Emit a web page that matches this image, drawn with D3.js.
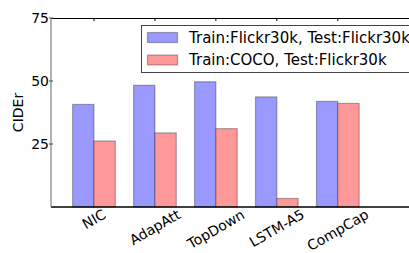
<!DOCTYPE html>
<html>
<head>
<meta charset="utf-8">
<script src="https://cdn.jsdelivr.net/npm/d3@7"></script>
<style>
  body { margin: 0; background: #fff; }
  svg { display: block; font-family: "DejaVu Sans", sans-serif; }
</style>
</head>
<body>
<svg id="chart" width="409" height="253"></svg>
<script>
// data
var models = ["NIC", "AdapAtt", "TopDown", "LSTM-A5", "CompCap"];
var flickrFlickr = [40.7, 48.3, 49.7, 43.7, 41.9];
var cocoFlickr = [26.2, 29.4, 31.1, 3.4, 41.1];
var yTicks = [25, 50, 75];
var seriesLabels = ["Train:Flickr30k, Test:Flickr30k", "Train:COCO, Test:Flickr30k"];
var seriesColors = ["#9999ff", "#ff9999"];

var svg = d3.select("#chart");
var margin = {left: 51, top: 18, bottom: 207, right: 414};

// x in category units, bars sit either side of the tick
var x = d3.scaleLinear().domain([-0.705, 5.25]).range([margin.left, margin.right]);
var y = d3.scaleLinear().domain([0, 75]).range([margin.bottom, margin.top]);
var barW = 0.35;

var rows = models.map(function(m, i) {
    return {name: m, i: i, vals: [flickrFlickr[i], cocoFlickr[i]]};
});

// bars
var groups = svg.append("g").selectAll("g")
    .data(rows)
    .enter().append("g");

groups.selectAll("rect")
    .data(function(d) {
        return d.vals.map(function(v, k) { return {i: d.i, k: k, v: v}; });
    })
    .enter().append("rect")
        .attr("x", function(d) { return x(d.k == 0 ? d.i - barW : d.i); })
        .attr("width", function(d) { return x(d.i + barW) - x(d.i); })
        .attr("y", function(d) { return y(d.v); })
        .attr("height", function(d) { return y(0) - y(d.v); })
        .attr("fill", function(d) { return seriesColors[d.k]; })
        .attr("stroke", "#000")
        .attr("stroke-opacity", 0.3)
        .attr("stroke-width", 1.2);

// spines
svg.append("line")
    .attr("x1", margin.left).attr("x2", 409)
    .attr("y1", margin.top + 0.5).attr("y2", margin.top + 0.5)
    .attr("stroke", "#000").attr("stroke-width", 1);
svg.append("line")
    .attr("x1", margin.left).attr("x2", 409)
    .attr("y1", y(0)).attr("y2", y(0))
    .attr("stroke", "#000").attr("stroke-width", 1.3);
svg.append("line")
    .attr("x1", margin.left).attr("x2", margin.left)
    .attr("y1", margin.top).attr("y2", y(0))
    .attr("stroke", "#888").attr("stroke-width", 1.3);

// top tick marks
svg.append("g").selectAll("line")
    .data(d3.range(models.length))
    .enter().append("line")
        .attr("x1", function(d) { return x(d); })
        .attr("x2", function(d) { return x(d); })
        .attr("y1", margin.top).attr("y2", margin.top + 3)
        .attr("stroke", "#000");

// y axis ticks and labels
var yg = svg.append("g");
yg.selectAll("line")
    .data(yTicks)
    .enter().append("line")
        .attr("x1", margin.left - 2).attr("x2", margin.left + 2)
        .attr("y1", function(d) { return y(d); })
        .attr("y2", function(d) { return y(d); })
        .attr("stroke", "#444");
yg.selectAll("text")
    .data(yTicks)
    .enter().append("text")
        .attr("x", margin.left - 2)
        .attr("y", function(d) { return y(d); })
        .attr("dy", "0.36em")
        .attr("text-anchor", "end")
        .attr("font-size", 14)
        .text(function(d) { return d; });

svg.append("text")
    .attr("transform", "translate(23," + y(37.5) + ") rotate(-90)")
    .attr("text-anchor", "middle")
    .attr("font-size", 14)
    .text("CIDEr");

// x labels, rotated 30deg, centred under the tick
svg.append("g").selectAll("text")
    .data(models)
    .enter().append("text")
        .attr("text-anchor", "middle")
        .attr("dy", "0.35em")
        .attr("font-size", 14)
        .text(function(d) { return d; })
        .each(function(d, i) {
            var bb = this.getBBox();
            var a = Math.PI / 6;
            var h = bb.width * Math.sin(a) + 10.5 * Math.cos(a);
            d3.select(this).attr("transform",
                "translate(" + x(i) + "," + (208.5 + h / 2) + ") rotate(-30)");
        });

// legend
var lg = svg.append("g");
lg.append("rect")
    .attr("x", 141.5).attr("y", 25.5)
    .attr("width", 280).attr("height", 47)
    .attr("fill", "#fff")
    .attr("stroke", "#444");
lg.selectAll("rect.key")
    .data(seriesLabels)
    .enter().append("rect")
        .attr("class", "key")
        .attr("x", 147.5)
        .attr("y", function(d, i) { return 32.5 + i * 22.5; })
        .attr("width", 30).attr("height", 10)
        .attr("fill", function(d, i) { return seriesColors[i]; })
        .attr("stroke", "#000")
        .attr("stroke-opacity", 0.3)
        .attr("stroke-width", 1.2);
lg.selectAll("text")
    .data(seriesLabels)
    .enter().append("text")
        .attr("x", 189)
        .attr("y", function(d, i) { return 37.5 + i * 22.5; })
        .attr("dy", "0.36em")
        .attr("font-size", 15)
        .text(function(d) { return d; });
</script>
</body>
</html>
